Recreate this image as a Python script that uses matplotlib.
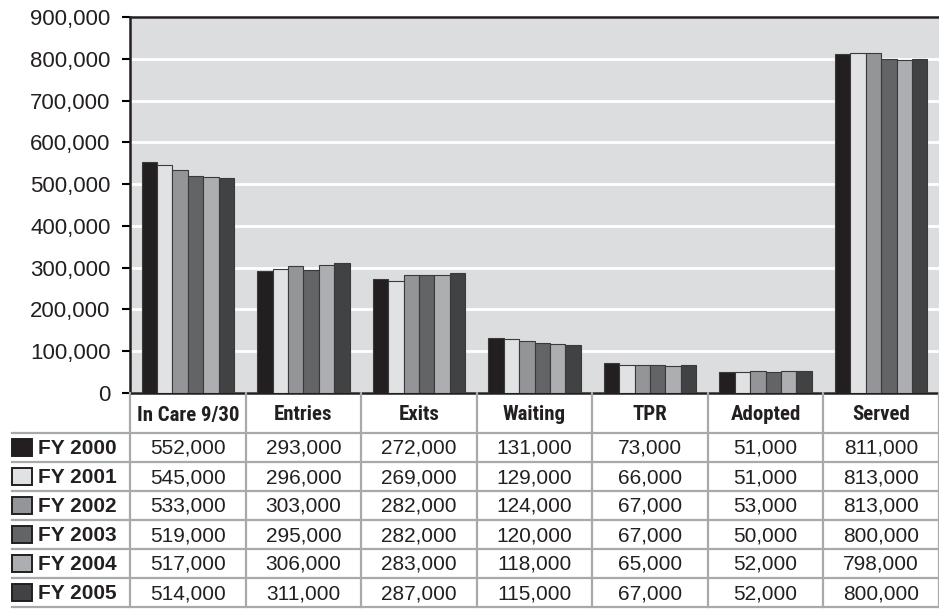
import matplotlib
matplotlib.use("Agg")
import matplotlib.pyplot as plt
import numpy as np
from matplotlib.patches import Rectangle
from matplotlib import font_manager

categories = ["In Care 9/30", "Entries", "Exits", "Waiting", "TPR", "Adopted", "Served"]
years = ["FY 2000", "FY 2001", "FY 2002", "FY 2003", "FY 2004", "FY 2005"]
fy2000 = [552000, 293000, 272000, 131000, 73000, 51000, 811000]
fy2001 = [545000, 296000, 269000, 129000, 66000, 51000, 813000]
fy2002 = [533000, 303000, 282000, 124000, 67000, 53000, 813000]
fy2003 = [519000, 295000, 282000, 120000, 67000, 50000, 800000]
fy2004 = [517000, 306000, 283000, 118000, 65000, 52000, 798000]
fy2005 = [514000, 311000, 287000, 115000, 67000, 52000, 800000]
series = [fy2000, fy2001, fy2002, fy2003, fy2004, fy2005]
colors = ["#231f20", "#e1e2e4", "#939598", "#636466", "#adaeb1", "#414244"]

# pick a condensed bold face for the header row if one is around
names = {f.name for f in font_manager.fontManager.ttflist}
narrow = [f for f in ["Liberation Sans Narrow", "DejaVu Sans Condensed", "Roboto Condensed"] if f in names]
head_family = narrow[:1] + ["Roboto", "DejaVu Sans"]

W, H = 939, 611
fig = plt.figure(figsize=(W / 100, H / 100), dpi=100)

# pixel layout
plot_l, plot_r, plot_t, plot_b = 130, 939, 17, 393
tab_l, tab_b = 12, 607
head_h, row_h = 40, 29

ax = fig.add_axes([plot_l / W, 1 - plot_b / H, (plot_r - plot_l) / W, (plot_b - plot_t) / H])
ax.set_facecolor("#dcdddf")
n = len(categories)
x = np.arange(n)
group = 0.8
bw = group / len(series)
for i, (vals, c) in enumerate(zip(series, colors)):
    ax.bar(x - group / 2 + bw * (i + 0.5), vals, bw, color=c, edgecolor="#3a3a3a",
           linewidth=0.8, zorder=3)
ax.set_xlim(-0.5, n - 0.5)
ax.set_ylim(0, 900000)
ax.set_yticks(np.arange(0, 900001, 100000))
ax.set_yticklabels([f"{v:,}" for v in range(0, 900001, 100000)],
                   fontsize=16, family="Liberation Sans", color="#231f20")
ax.yaxis.grid(True, color="white", linewidth=2, zorder=1)
ax.set_axisbelow(True)
ax.set_xticks([])
ax.tick_params(axis="y", direction="out", length=6, width=1.5, pad=8)
for s in ["left", "top", "bottom"]:
    ax.spines[s].set_linewidth(1.8)
    ax.spines[s].set_color("#231f20")
ax.spines["right"].set_visible(False)

# data table below
tax = fig.add_axes([tab_l / W, 1 - tab_b / H, (W - tab_l) / W, (tab_b - plot_b) / H])
px_per_unit = (plot_r - plot_l) / n
left_units = -0.5 - (plot_l - tab_l) / px_per_unit
tax.set_xlim(left_units, n - 0.5)
tax.set_ylim(tab_b - plot_b, 0)
tax.axis("off")

grid_c = "#a7a9ac"
total = head_h + row_h * len(years)
for k in range(n + 1):
    tax.plot([-0.5 + k, -0.5 + k], [0, total], color=grid_c, lw=1.6, clip_on=False)
for r in range(len(years) + 1):
    yy = head_h + row_h * r
    tax.plot([left_units, n - 0.5], [yy, yy], color=grid_c, lw=1.6, clip_on=False)

for j, cat in enumerate(categories):
    tax.text(j, head_h / 2 + 2, cat, ha="center", va="center", fontsize=15,
             fontweight="bold", family=head_family, color="#231f20")

key_w = 20 / px_per_unit
for r, (yr, vals, c) in enumerate(zip(years, series, colors)):
    yc = head_h + row_h * r + row_h / 2
    tax.add_patch(Rectangle((left_units, yc - 8.5), key_w, 17, facecolor=c,
                            edgecolor="#231f20", linewidth=1.4, clip_on=False))
    tax.text(left_units + key_w + 6 / px_per_unit, yc + 1, yr, ha="left", va="center",
             fontsize=15, fontweight="bold", family="Liberation Sans", color="#231f20")
    for j, v in enumerate(vals):
        tax.text(j, yc + 1, f"{v:,}", ha="center", va="center", fontsize=15,
                 family="Liberation Sans", color="#231f20")

fig.savefig("out.png", dpi=100)
